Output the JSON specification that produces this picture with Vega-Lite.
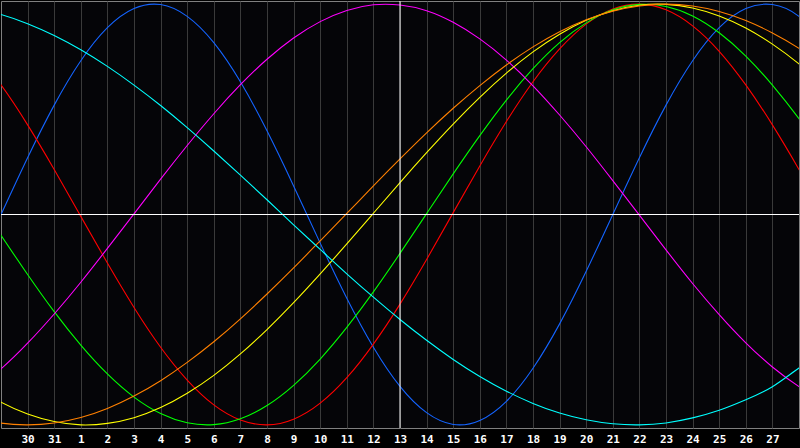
{
  "$schema": "https://vega.github.io/schema/vega-lite/v6.json",
  "width": 800,
  "height": 448,
  "autosize": {"type": "fit", "contains": "padding"},
  "padding": {"left": 0, "right": 0, "top": 0, "bottom": 4},
  "background": "#000000",
  "config": {
    "view": {"fill": "#050508", "stroke": "#808080", "strokeWidth": 1}
  },
  "datasets": {
    "curves": [
      {"cycle": "c23", "day": -1, "value": -0.270}, {"cycle": "c23", "day": 0, "value": 0.000}, {"cycle": "c23", "day": 1, "value": 0.270}, {"cycle": "c23", "day": 2, "value": 0.520}, {"cycle": "c23", "day": 3, "value": 0.731}, {"cycle": "c23", "day": 4, "value": 0.888}, {"cycle": "c23", "day": 5, "value": 0.979}, {"cycle": "c23", "day": 6, "value": 0.998}, {"cycle": "c23", "day": 7, "value": 0.942}, {"cycle": "c23", "day": 8, "value": 0.817}, {"cycle": "c23", "day": 9, "value": 0.631}, {"cycle": "c23", "day": 10, "value": 0.398}, {"cycle": "c23", "day": 11, "value": 0.136}, {"cycle": "c23", "day": 12, "value": -0.136}, {"cycle": "c23", "day": 13, "value": -0.398}, {"cycle": "c23", "day": 14, "value": -0.631}, {"cycle": "c23", "day": 15, "value": -0.817}, {"cycle": "c23", "day": 16, "value": -0.942}, {"cycle": "c23", "day": 17, "value": -0.998}, {"cycle": "c23", "day": 18, "value": -0.979}, {"cycle": "c23", "day": 19, "value": -0.888}, {"cycle": "c23", "day": 20, "value": -0.731}, {"cycle": "c23", "day": 21, "value": -0.520}, {"cycle": "c23", "day": 22, "value": -0.270}, {"cycle": "c23", "day": 23, "value": 0.000}, {"cycle": "c23", "day": 24, "value": 0.270}, {"cycle": "c23", "day": 25, "value": 0.520}, {"cycle": "c23", "day": 26, "value": 0.731}, {"cycle": "c23", "day": 27, "value": 0.888}, {"cycle": "c23", "day": 28, "value": 0.979}, {"cycle": "c23", "day": 29, "value": 0.998}, {"cycle": "c23", "day": 30, "value": 0.942}, {"cycle": "c23", "day": 31, "value": 0.817},
      {"cycle": "c28", "day": -1, "value": 0.776}, {"cycle": "c28", "day": 0, "value": 0.616}, {"cycle": "c28", "day": 1, "value": 0.426}, {"cycle": "c28", "day": 2, "value": 0.214}, {"cycle": "c28", "day": 3, "value": -0.009}, {"cycle": "c28", "day": 4, "value": -0.231}, {"cycle": "c28", "day": 5, "value": -0.442}, {"cycle": "c28", "day": 6, "value": -0.631}, {"cycle": "c28", "day": 7, "value": -0.787}, {"cycle": "c28", "day": 8, "value": -0.905}, {"cycle": "c28", "day": 9, "value": -0.977}, {"cycle": "c28", "day": 10, "value": -1.000}, {"cycle": "c28", "day": 11, "value": -0.973}, {"cycle": "c28", "day": 12, "value": -0.897}, {"cycle": "c28", "day": 13, "value": -0.776}, {"cycle": "c28", "day": 14, "value": -0.616}, {"cycle": "c28", "day": 15, "value": -0.426}, {"cycle": "c28", "day": 16, "value": -0.214}, {"cycle": "c28", "day": 17, "value": 0.009}, {"cycle": "c28", "day": 18, "value": 0.231}, {"cycle": "c28", "day": 19, "value": 0.442}, {"cycle": "c28", "day": 20, "value": 0.631}, {"cycle": "c28", "day": 21, "value": 0.787}, {"cycle": "c28", "day": 22, "value": 0.905}, {"cycle": "c28", "day": 23, "value": 0.977}, {"cycle": "c28", "day": 24, "value": 1.000}, {"cycle": "c28", "day": 25, "value": 0.973}, {"cycle": "c28", "day": 26, "value": 0.897}, {"cycle": "c28", "day": 27, "value": 0.776}, {"cycle": "c28", "day": 28, "value": 0.616}, {"cycle": "c28", "day": 29, "value": 0.426}, {"cycle": "c28", "day": 30, "value": 0.214}, {"cycle": "c28", "day": 31, "value": -0.009},
      {"cycle": "c33", "day": -1, "value": 0.091}, {"cycle": "c33", "day": 0, "value": -0.099}, {"cycle": "c33", "day": 1, "value": -0.285}, {"cycle": "c33", "day": 2, "value": -0.462}, {"cycle": "c33", "day": 3, "value": -0.621}, {"cycle": "c33", "day": 4, "value": -0.758}, {"cycle": "c33", "day": 5, "value": -0.868}, {"cycle": "c33", "day": 6, "value": -0.946}, {"cycle": "c33", "day": 7, "value": -0.990}, {"cycle": "c33", "day": 8, "value": -0.999}, {"cycle": "c33", "day": 9, "value": -0.971}, {"cycle": "c33", "day": 10, "value": -0.908}, {"cycle": "c33", "day": 11, "value": -0.812}, {"cycle": "c33", "day": 12, "value": -0.687}, {"cycle": "c33", "day": 13, "value": -0.537}, {"cycle": "c33", "day": 14, "value": -0.368}, {"cycle": "c33", "day": 15, "value": -0.185}, {"cycle": "c33", "day": 16, "value": 0.004}, {"cycle": "c33", "day": 17, "value": 0.193}, {"cycle": "c33", "day": 18, "value": 0.375}, {"cycle": "c33", "day": 19, "value": 0.544}, {"cycle": "c33", "day": 20, "value": 0.693}, {"cycle": "c33", "day": 21, "value": 0.817}, {"cycle": "c33", "day": 22, "value": 0.911}, {"cycle": "c33", "day": 23, "value": 0.973}, {"cycle": "c33", "day": 24, "value": 0.999}, {"cycle": "c33", "day": 25, "value": 0.989}, {"cycle": "c33", "day": 26, "value": 0.944}, {"cycle": "c33", "day": 27, "value": 0.864}, {"cycle": "c33", "day": 28, "value": 0.753}, {"cycle": "c33", "day": 29, "value": 0.615}, {"cycle": "c33", "day": 30, "value": 0.455}, {"cycle": "c33", "day": 31, "value": 0.278},
      {"cycle": "c38", "day": -1, "value": -0.835}, {"cycle": "c38", "day": 0, "value": -0.734}, {"cycle": "c38", "day": 1, "value": -0.612}, {"cycle": "c38", "day": 2, "value": -0.473}, {"cycle": "c38", "day": 3, "value": -0.322}, {"cycle": "c38", "day": 4, "value": -0.161}, {"cycle": "c38", "day": 5, "value": 0.003}, {"cycle": "c38", "day": 6, "value": 0.168}, {"cycle": "c38", "day": 7, "value": 0.328}, {"cycle": "c38", "day": 8, "value": 0.479}, {"cycle": "c38", "day": 9, "value": 0.617}, {"cycle": "c38", "day": 10, "value": 0.738}, {"cycle": "c38", "day": 11, "value": 0.839}, {"cycle": "c38", "day": 12, "value": 0.917}, {"cycle": "c38", "day": 13, "value": 0.970}, {"cycle": "c38", "day": 14, "value": 0.997}, {"cycle": "c38", "day": 15, "value": 0.996}, {"cycle": "c38", "day": 16, "value": 0.969}, {"cycle": "c38", "day": 17, "value": 0.914}, {"cycle": "c38", "day": 18, "value": 0.835}, {"cycle": "c38", "day": 19, "value": 0.734}, {"cycle": "c38", "day": 20, "value": 0.612}, {"cycle": "c38", "day": 21, "value": 0.473}, {"cycle": "c38", "day": 22, "value": 0.322}, {"cycle": "c38", "day": 23, "value": 0.161}, {"cycle": "c38", "day": 24, "value": -0.003}, {"cycle": "c38", "day": 25, "value": -0.168}, {"cycle": "c38", "day": 26, "value": -0.328}, {"cycle": "c38", "day": 27, "value": -0.476}, {"cycle": "c38", "day": 28, "value": -0.610}, {"cycle": "c38", "day": 29, "value": -0.725}, {"cycle": "c38", "day": 30, "value": -0.818}, {"cycle": "c38", "day": 31, "value": -0.893},
      {"cycle": "c43", "day": -1, "value": -0.817}, {"cycle": "c43", "day": 0, "value": -0.892}, {"cycle": "c43", "day": 1, "value": -0.948}, {"cycle": "c43", "day": 2, "value": -0.984}, {"cycle": "c43", "day": 3, "value": -1.000}, {"cycle": "c43", "day": 4, "value": -0.993}, {"cycle": "c43", "day": 5, "value": -0.966}, {"cycle": "c43", "day": 6, "value": -0.918}, {"cycle": "c43", "day": 7, "value": -0.850}, {"cycle": "c43", "day": 8, "value": -0.765}, {"cycle": "c43", "day": 9, "value": -0.663}, {"cycle": "c43", "day": 10, "value": -0.547}, {"cycle": "c43", "day": 11, "value": -0.419}, {"cycle": "c43", "day": 12, "value": -0.282}, {"cycle": "c43", "day": 13, "value": -0.140}, {"cycle": "c43", "day": 14, "value": 0.006}, {"cycle": "c43", "day": 15, "value": 0.152}, {"cycle": "c43", "day": 16, "value": 0.294}, {"cycle": "c43", "day": 17, "value": 0.430}, {"cycle": "c43", "day": 18, "value": 0.557}, {"cycle": "c43", "day": 19, "value": 0.672}, {"cycle": "c43", "day": 20, "value": 0.773}, {"cycle": "c43", "day": 21, "value": 0.857}, {"cycle": "c43", "day": 22, "value": 0.923}, {"cycle": "c43", "day": 23, "value": 0.969}, {"cycle": "c43", "day": 24, "value": 0.995}, {"cycle": "c43", "day": 25, "value": 0.999}, {"cycle": "c43", "day": 26, "value": 0.982}, {"cycle": "c43", "day": 27, "value": 0.944}, {"cycle": "c43", "day": 28, "value": 0.887}, {"cycle": "c43", "day": 29, "value": 0.810}, {"cycle": "c43", "day": 30, "value": 0.716}, {"cycle": "c43", "day": 31, "value": 0.606},
      {"cycle": "c48", "day": -1, "value": -0.967}, {"cycle": "c48", "day": 0, "value": -0.992}, {"cycle": "c48", "day": 1, "value": -1.000}, {"cycle": "c48", "day": 2, "value": -0.991}, {"cycle": "c48", "day": 3, "value": -0.965}, {"cycle": "c48", "day": 4, "value": -0.922}, {"cycle": "c48", "day": 5, "value": -0.863}, {"cycle": "c48", "day": 6, "value": -0.790}, {"cycle": "c48", "day": 7, "value": -0.703}, {"cycle": "c48", "day": 8, "value": -0.605}, {"cycle": "c48", "day": 9, "value": -0.496}, {"cycle": "c48", "day": 10, "value": -0.378}, {"cycle": "c48", "day": 11, "value": -0.254}, {"cycle": "c48", "day": 12, "value": -0.125}, {"cycle": "c48", "day": 13, "value": 0.005}, {"cycle": "c48", "day": 14, "value": 0.136}, {"cycle": "c48", "day": 15, "value": 0.264}, {"cycle": "c48", "day": 16, "value": 0.388}, {"cycle": "c48", "day": 17, "value": 0.505}, {"cycle": "c48", "day": 18, "value": 0.613}, {"cycle": "c48", "day": 19, "value": 0.711}, {"cycle": "c48", "day": 20, "value": 0.797}, {"cycle": "c48", "day": 21, "value": 0.869}, {"cycle": "c48", "day": 22, "value": 0.926}, {"cycle": "c48", "day": 23, "value": 0.967}, {"cycle": "c48", "day": 24, "value": 0.992}, {"cycle": "c48", "day": 25, "value": 1.000}, {"cycle": "c48", "day": 26, "value": 0.991}, {"cycle": "c48", "day": 27, "value": 0.965}, {"cycle": "c48", "day": 28, "value": 0.922}, {"cycle": "c48", "day": 29, "value": 0.863}, {"cycle": "c48", "day": 30, "value": 0.790}, {"cycle": "c48", "day": 31, "value": 0.703},
      {"cycle": "c53", "day": -1, "value": 0.981}, {"cycle": "c53", "day": 0, "value": 0.951}, {"cycle": "c53", "day": 1, "value": 0.907}, {"cycle": "c53", "day": 2, "value": 0.851}, {"cycle": "c53", "day": 3, "value": 0.783}, {"cycle": "c53", "day": 4, "value": 0.704}, {"cycle": "c53", "day": 5, "value": 0.615}, {"cycle": "c53", "day": 6, "value": 0.518}, {"cycle": "c53", "day": 7, "value": 0.413}, {"cycle": "c53", "day": 8, "value": 0.302}, {"cycle": "c53", "day": 9, "value": 0.187}, {"cycle": "c53", "day": 10, "value": 0.070}, {"cycle": "c53", "day": 11, "value": -0.049}, {"cycle": "c53", "day": 12, "value": -0.166}, {"cycle": "c53", "day": 13, "value": -0.282}, {"cycle": "c53", "day": 14, "value": -0.393}, {"cycle": "c53", "day": 15, "value": -0.499}, {"cycle": "c53", "day": 16, "value": -0.598}, {"cycle": "c53", "day": 17, "value": -0.689}, {"cycle": "c53", "day": 18, "value": -0.770}, {"cycle": "c53", "day": 19, "value": -0.840}, {"cycle": "c53", "day": 20, "value": -0.898}, {"cycle": "c53", "day": 21, "value": -0.944}, {"cycle": "c53", "day": 22, "value": -0.976}, {"cycle": "c53", "day": 23, "value": -0.995}, {"cycle": "c53", "day": 24, "value": -1.000}, {"cycle": "c53", "day": 25, "value": -0.991}, {"cycle": "c53", "day": 26, "value": -0.967}, {"cycle": "c53", "day": 27, "value": -0.931}, {"cycle": "c53", "day": 28, "value": -0.881}, {"cycle": "c53", "day": 29, "value": -0.819}, {"cycle": "c53", "day": 30, "value": -0.730}, {"cycle": "c53", "day": 31, "value": -0.650}
    ]
  },
  "layer": [
    {
      "data": {"name": "curves"},
      "mark": {"type": "line", "interpolate": "natural", "clip": true, "strokeWidth": 1.1},
      "encoding": {
        "x": {
          "field": "day",
          "type": "quantitative",
          "scale": {"domain": [0, 30], "nice": false, "zero": false},
          "axis": {
            "values": [1, 2, 3, 4, 5, 6, 7, 8, 9, 10, 11, 12, 13, 14, 15, 16, 17, 18, 19, 20, 21, 22, 23, 24, 25, 26, 27, 28, 29],
            "tickCount": 30,
            "labelExpr": "datum.value <= 2 ? datum.value + 29 : datum.value - 2",
            "title": null,
            "domain": false,
            "ticks": false,
            "grid": true,
            "gridColor": "#3a3a3a",
            "gridWidth": 1,
            "labelColor": "#ffffff",
            "labelFont": "DejaVu Sans Mono",
            "labelFontWeight": "bold",
            "labelFontSize": 11,
            "labelPadding": 5,
            "labelOverlap": false,
            "labelFlush": false
          }
        },
        "y": {
          "field": "value",
          "type": "quantitative",
          "scale": {"domain": [-1.015, 1.015], "nice": false, "zero": false},
          "axis": null
        },
        "color": {
          "field": "cycle",
          "type": "nominal",
          "scale": {
            "domain": ["c23", "c28", "c33", "c38", "c43", "c48", "c53"],
            "range": ["#1464ff", "#ff0000", "#00ff00", "#ff00ff", "#ffff00", "#ff8000", "#00ffff"]
          },
          "legend": null
        }
      }
    },
    {
      "data": {"values": [{"value": 0}]},
      "mark": {"type": "rule", "color": "#ffffff", "strokeWidth": 1},
      "encoding": {"y": {"field": "value", "type": "quantitative"}}
    },
    {
      "data": {"values": [{"day": 15}]},
      "mark": {"type": "rule", "color": "#ffffff", "strokeWidth": 1},
      "encoding": {"x": {"field": "day", "type": "quantitative"}}
    }
  ]
}
